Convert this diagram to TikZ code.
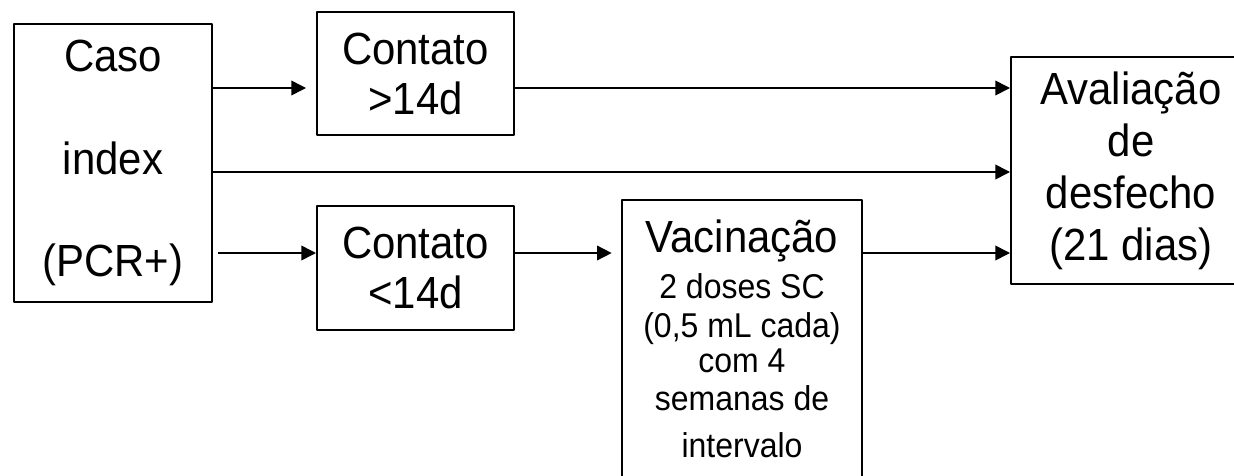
\documentclass[tikz,border=0pt]{standalone}
\usepackage{fontspec}
\setmainfont{Liberation Sans}[FakeStretch=0.93]
\usetikzlibrary{arrows.meta}
\newcommand\bigtxt{\fontsize{33.8}{39}\selectfont}
\newcommand\smalltxt{\fontsize{25.8}{28.5}\selectfont}
\begin{document}
\begin{tikzpicture}[x=0.75pt, y=-0.75pt, line join=round, >={Triangle[length=11pt,width=11pt]},
	box/.style={draw, line width=1.5pt, inner sep=0pt, align=center, font=\bigtxt},
	flow/.style={->, line width=1.2pt}]
	\useasboundingbox (0,0) rectangle (1234,475);
	% rows of the arrows
	\path (0,88) coordinate (r1)
	(0,172) coordinate (r2)
	(0,253) coordinate (r3);
	\node[box, minimum width=148.5pt, minimum height=208.5pt] (caso) at (113,163) {Caso\\[38pt]index\\[38pt](PCR+)};
	\node[box, minimum width=147.75pt, minimum height=92.6pt] (maior) at (415.5,73.5) {Contato\\[-1.5pt]>14d};
	\node[box, minimum width=147.75pt, minimum height=92.6pt] (menor) at (415.5,268) {Contato\\[-1.5pt]<14d};
	\node[box, minimum width=180pt, minimum height=208.5pt, font=\smalltxt] (vac) at (742,339) {{\bigtxt Vacinação}\\[5.5pt]2 doses SC\\[1pt](0,5 mL cada)\\[-2pt]com 4\\semanas de\\[6.75pt]intervalo};
	\node[box, minimum width=180pt, minimum height=170.25pt] (aval) at (1131,170.5) {Avaliação\\de\\desfecho\\(21 dias)};
	\foreach \de/\para/\r/\s/\e in {caso/maior/r1/0pt/7.5pt, maior/aval/r1/0pt/0pt, caso/aval/r2/0pt/0pt, caso/menor/r3/4pt/0pt, menor/vac/r3/0pt/7pt, vac/aval/r3/0pt/0pt}
		\draw[flow, shorten <=\s, shorten >=\e] (\de.east |- \r) -- (\para.west |- \r);
\end{tikzpicture}
\end{document}
